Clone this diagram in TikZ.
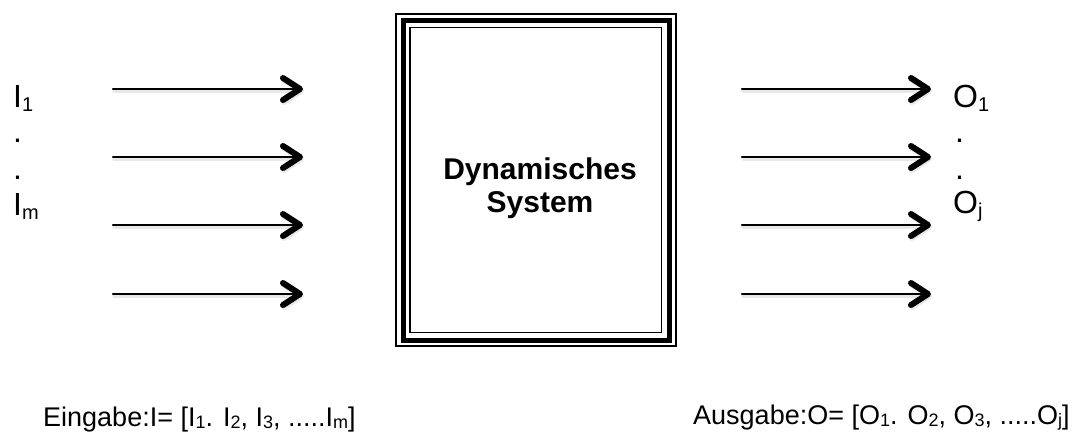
\documentclass[tikz,border=0pt]{standalone}
\usepackage{fontspec}
\setmainfont{Liberation Sans}
\usetikzlibrary{arrows.meta}
% lowered index: #1 drop, #2 font size, #3 text
\newcommand\lowidx[3]{\raisebox{-#1}{\fontsize{#2}{#2}\selectfont #3}}
\tikzset{
  io/.style={line width=2.4pt, line cap=round,
    -{Straight Barb[length=17pt,width=22pt,line width=6pt,round]}},
  ioshade/.style={io, line width=3.2pt, draw=black!9, color=black!9,
    transform canvas={shift={(1pt,-2pt)}}},
  lbl/.style={font=\fontsize{32}{38}\selectfont, inner sep=0pt, anchor=base west},
  eqn/.style={font=\fontsize{27}{32}\selectfont, inner sep=0pt, anchor=base west},
  sysname/.style={font=\bfseries\fontsize{30}{33}\selectfont, align=center, inner sep=0pt},
}
\begin{document}
\begin{tikzpicture}[x=1pt, y=-1pt]
\useasboundingbox (0,0) rectangle (1073,432);

% system block with triple frame
\draw[line width=1.6pt] (396,14) rectangle (676,346);
\draw[line width=5pt] (403,20.5) rectangle (669.5,340);
\draw[line width=1.8pt] (410,27.5) rectangle (661.5,332.5);
\node[sysname] (sys) at (540,188) {Dynamisches\\System};

% start and end points of the signal lines
\foreach \k/\y in {1/89, 2/157, 3/225, 4/294} {
  \coordinate (ia\k) at (113,\y);
  \coordinate (ib\k) at (303,\y);
  \coordinate (oa\k) at (742,\y);
  \coordinate (ob\k) at (931,\y);
}
% soft shadow under the signal lines
\foreach \k in {1,...,4} {
  \draw[ioshade] (ia\k) -- (ib\k);
  \draw[ioshade] (oa\k) -- (ob\k);
}
\foreach \k in {1,...,4} {
  \draw[io] (ia\k) -- (ib\k);
  \draw[io] (oa\k) -- (ob\k);
}

% input names
\node[lbl] (i1) at (13,107) {I\lowidx{4pt}{20}{1}};
\node[lbl] (id1) at (13,142) {.};
\node[lbl] (id2) at (13,179) {.};
\node[lbl] (im) at (13,215) {I\lowidx{4pt}{20}{m}};

% output names
\node[lbl] (o1) at (953,107) {O\lowidx{4pt}{20}{1}};
\node[lbl] (od1) at (955,142) {.};
\node[lbl] (od2) at (955,179) {.};
\node[lbl] (oj) at (953,213) {O\lowidx{4pt}{20}{j}};

% input and output vectors
\node[eqn] (ein) at (43,426) {Eingabe:I= [I\lowidx{2.5pt}{18}{1}. I\lowidx{2.5pt}{18}{2}, I\lowidx{2.5pt}{18}{3}, .....I\lowidx{2.5pt}{18}{m}]};
\node[eqn] (aus) at (693,424) {Ausgabe:O= [O\lowidx{2.5pt}{18}{1}. O\lowidx{2.5pt}{18}{2}, O\lowidx{2.5pt}{18}{3}, .....O\lowidx{2.5pt}{18}{j}]};
\end{tikzpicture}
\end{document}
